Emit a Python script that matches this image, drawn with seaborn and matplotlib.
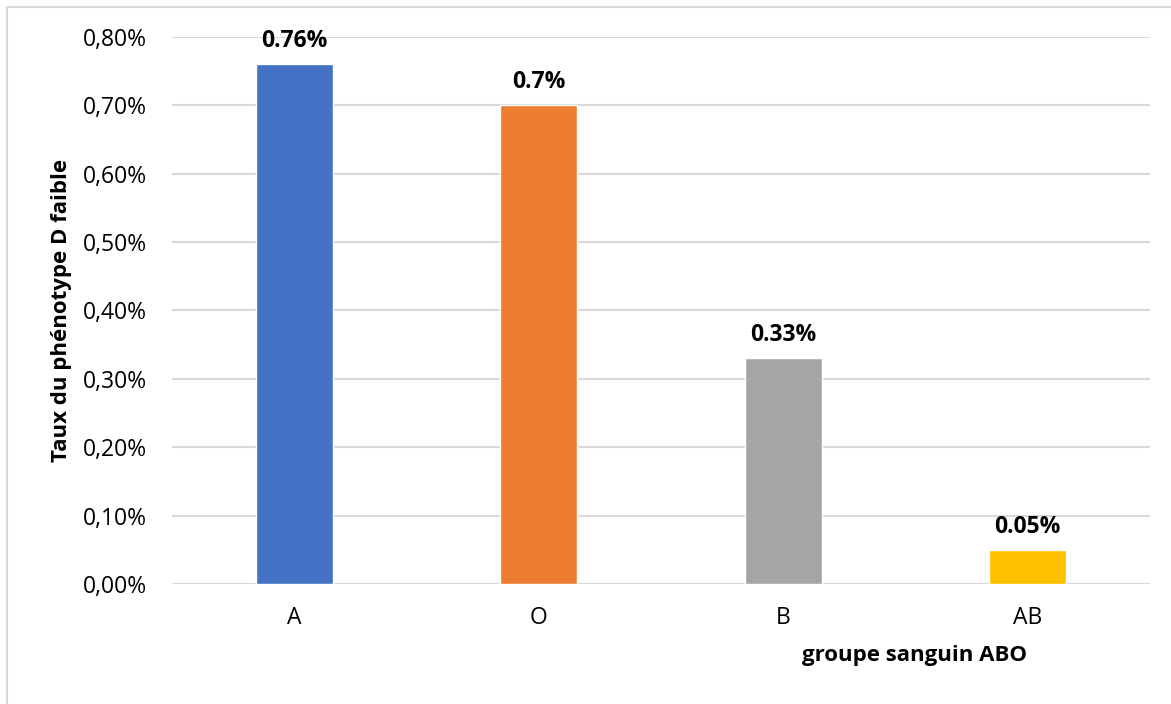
import matplotlib
matplotlib.use("Agg")
import matplotlib.pyplot as plt
import seaborn as sns
import pandas as pd
from matplotlib.patches import Rectangle
from matplotlib.ticker import FuncFormatter, MultipleLocator

# Weak D phenotype rate per ABO blood group (in percent)
groups = ["A", "O", "B", "AB"]
rates = [0.76, 0.70, 0.33, 0.05]
value_labels = ["0.76%", "0.7%", "0.33%", "0.05%"]
colors = ["#4472C4", "#ED7D31", "#A5A5A5", "#FFC000"]

sns.set_theme(style="white")
plt.rcParams["font.family"] = ["Open Sans", "DejaVu Sans"]
plt.rcParams["text.color"] = "black"
plt.rcParams["axes.labelcolor"] = "black"

df = pd.DataFrame({"groupe": groups, "taux": rates})

fig = plt.figure(figsize=(11.71, 7.04), dpi=100)
ax = fig.add_axes([0.147, 0.1705, 0.835, 0.777])

# light frame around the chart area
fig.patches.append(Rectangle((7 / 1171, -0.01), 1.0, 1 - 7 / 704 + 0.01,
                             transform=fig.transFigure, fill=False,
                             edgecolor="#D9D9D9", linewidth=1.5))

sns.barplot(data=df, x="groupe", y="taux", hue="groupe", palette=colors,
            order=groups, hue_order=groups, width=0.315, dodge=False,
            legend=False, ax=ax, saturation=1, zorder=3)

ax.set_ylim(0, 0.8)
ax.set_xlim(-0.5, 3.5)
ax.yaxis.set_major_locator(MultipleLocator(0.1))
ax.yaxis.set_major_formatter(FuncFormatter(lambda v, p: f"{v:.2f}%".replace(".", ",")))
ax.grid(axis="y", color="#D9D9D9", linewidth=1.5, zorder=0)
ax.set_axisbelow(True)
for s in ax.spines.values():
    s.set_visible(False)
ax.tick_params(axis="both", length=0, labelsize=16.5, colors="#000000")
ax.tick_params(axis="x", pad=16)
ax.tick_params(axis="y", pad=18)

for i, (v, lab) in enumerate(zip(rates, value_labels)):
    ax.annotate(lab, (i, v), xytext=(0, 8), textcoords="offset points",
                ha="center", va="bottom", fontsize=16.5, fontweight="bold",
                color="black")

ax.set_xlabel("")
ax.set_ylabel("Taux du phénotype D faible", fontsize=16, fontweight="bold",
              labelpad=8, color="black")
fig.text(914 / 1171, 1 - 656 / 704, "groupe sanguin ABO", ha="center", va="center",
         fontsize=16, fontweight="bold", color="black")

fig.savefig("out.png", dpi=100, facecolor="white")
